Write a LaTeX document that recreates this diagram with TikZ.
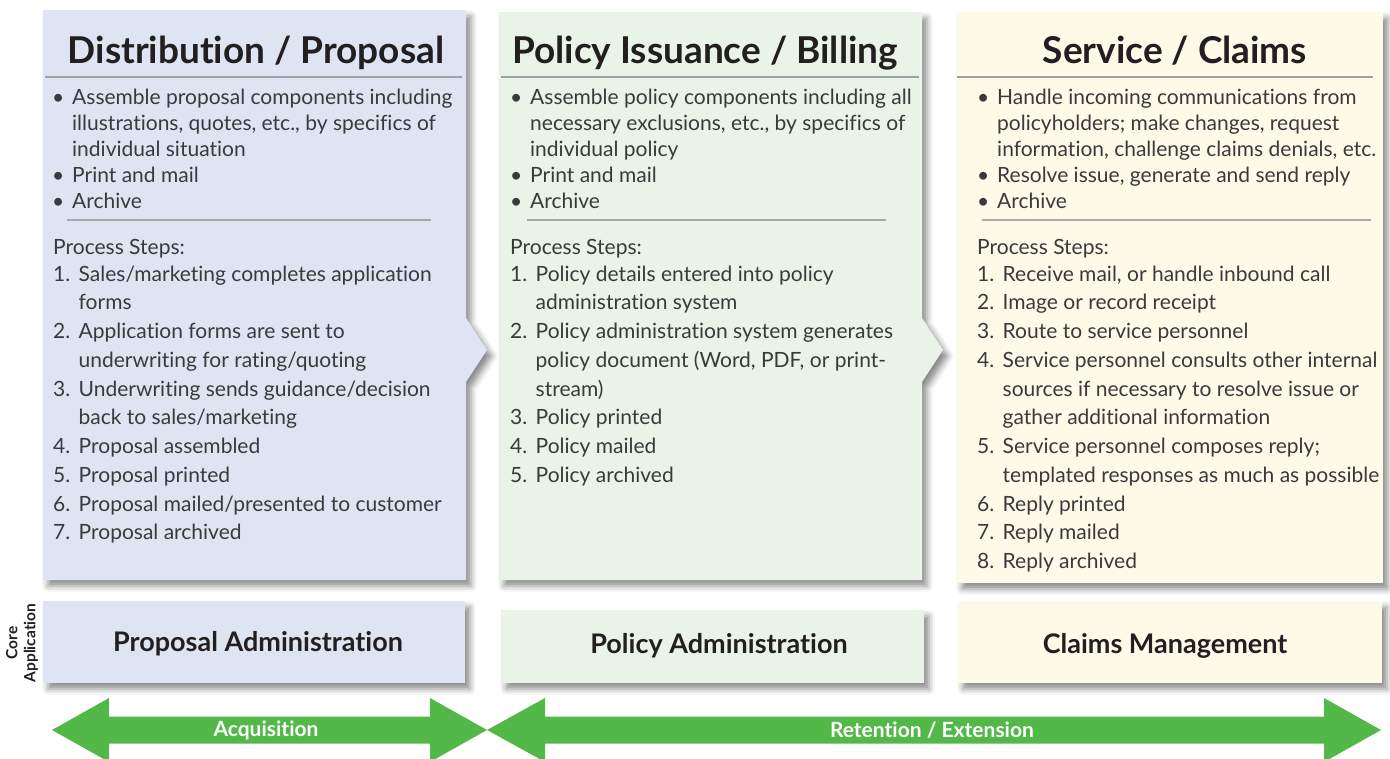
\documentclass[tikz,border=0pt]{standalone}
\usepackage{fontspec}
\setmainfont{Lato}[Ligatures=NoCommon]
\usetikzlibrary{shadows.blur}
\definecolor{fillA}{HTML}{DFE4F2}
\definecolor{fillB}{HTML}{E9F3E7}
\definecolor{fillC}{HTML}{FEFAE8}
\definecolor{arrowgreen}{HTML}{52B848}
\definecolor{headc}{HTML}{231F20}
\definecolor{bodyc}{HTML}{3A3A3C}
\definecolor{rulec}{HTML}{9FA1A4}
\definecolor{seprule}{HTML}{A8A8A8}
\newcommand{\blist}[1]{\begin{tabular}[t]{@{}p{20pt}@{}l@{}}#1\end{tabular}}
\newcommand{\nlist}[1]{\begin{tabular}[t]{@{}p{25.5pt}@{}l@{}}#1\end{tabular}}
\tikzset{
  panelshadow/.style={blur shadow={shadow xshift=5pt,shadow yshift=-6pt,shadow blur radius=6pt,shadow opacity=45}},
  header/.style={anchor=base,inner sep=0pt,text=headc,font=\fontsize{37}{44}\selectfont\bfseries},
  bodytxt/.style={anchor=base west,inner sep=0pt,text=bodyc,font=\fontsize{21}{26}\selectfont},
  steptxt/.style={anchor=base west,inner sep=0pt,text=bodyc,font=\fontsize{21}{28.75}\selectfont},
  headrule/.style={draw=rulec,line width=2.2pt},
  seprulestyle/.style={draw=seprule,line width=1.3pt},
  apptxt/.style={anchor=base,inner sep=0pt,text=headc,font=\fontsize{27}{30}\selectfont\bfseries},
  arrowtxt/.style={inner sep=0pt,text=white,font=\fontsize{21}{24}\selectfont\bfseries},
  bigarrow/.style={fill=arrowgreen}
}
\begin{document}
\begin{tikzpicture}[x=1pt,y=-1pt]
\useasboundingbox (0,0) rectangle (1390,758);
\clip (0,0) rectangle (1390,758);
% ---------- panels ----------
\fill[fillA,panelshadow] (43,10) -- (466,10) -- (466,318) -- (487,350) -- (466,382) -- (466,580) -- (43,580) -- cycle;
\fill[fillB,panelshadow] (499,12) -- (922,12) -- (922,318) -- (943,350) -- (922,382) -- (922,580) -- (499,580) -- cycle;
\fill[fillC,panelshadow] (957,12) rectangle (1383,583);
% header rules
\draw[headrule] (45,77) -- (462,77);
\draw[headrule] (501,77) -- (919,77);
\draw[headrule] (957,77) -- (1373,77);
% headers
\node[header] (hA) at (256,63) {Distribution / Proposal};
\node[header] (hB) at (705,63) {Policy Issuance / Billing};
\node[header] (hC) at (1175,63) {Service / Claims};
% ---------- panel A text ----------
\node[bodytxt] (bA) at (52,104) {\blist{%
\textbullet & Assemble proposal components including\\
 & illustrations, quotes, etc., by specifics of\\
 & individual situation\\
\textbullet & Print and mail\\
\textbullet & Archive}};
\draw[seprulestyle] (67,220) -- (431,220);
\node[bodytxt] (pA) at (53,254) {Process Steps:};
\node[steptxt] (sA) at (53,281) {\nlist{%
1. & Sales/marketing completes application\\
 & forms\\
2. & Application forms are sent to\\
 & underwriting for rating/quoting\\
3. & Underwriting sends guidance/decision\\
 & back to sales/marketing\\
4. & Proposal assembled\\
5. & Proposal printed\\
6. & Proposal mailed/presented to customer\\
7. & Proposal archived}};
% ---------- panel B text ----------
\node[bodytxt] (bB) at (510,104) {\blist{%
\textbullet & Assemble policy components including all\\
 & necessary exclusions, etc., by specifics of\\
 & individual policy\\
\textbullet & Print and mail\\
\textbullet & Archive}};
\draw[seprulestyle] (527,220) -- (886,220);
\node[bodytxt] (pB) at (510,254) {Process Steps:};
\node[steptxt] (sB) at (510,281) {\nlist{%
1. & Policy details entered into policy\\
 & administration system\\
2. & Policy administration system generates\\
 & policy document (Word, PDF, or print-\\
 & stream)\\
3. & Policy printed\\
4. & Policy mailed\\
5. & Policy archived}};
% ---------- panel C text ----------
\node[bodytxt] (bC) at (977,104) {\blist{%
\textbullet & Handle incoming communications from\\
 & policyholders; make changes, request\\
 & information, challenge claims denials, etc.\\
\textbullet & Resolve issue, generate and send reply\\
\textbullet & Archive}};
\draw[seprulestyle] (982,220) -- (1371,220);
\node[bodytxt] (pC) at (977,254) {Process Steps:};
\node[steptxt] (sC) at (977,281) {\nlist{%
1. & Receive mail, or handle inbound call\\
2. & Image or record receipt\\
3. & Route to service personnel\\
4. & Service personnel consults other internal\\
 & sources if necessary to resolve issue or\\
 & gather additional information\\
5. & Service personnel composes reply;\\
 & templated responses as much as possible\\
6. & Reply printed\\
7. & Reply mailed\\
8. & Reply archived}};
% ---------- core application boxes ----------
\fill[fillA,panelshadow] (43,601) rectangle (465,683);
\fill[fillB,panelshadow] (501,610) rectangle (924,683);
\fill[fillC,panelshadow] (958,601) rectangle (1382,683);
\node[apptxt] (aA) at (258,651) {Proposal Administration};
\node[apptxt] (aB) at (719,653) {Policy Administration};
\node[apptxt] (aC) at (1165,653) {Claims Management};
\node[rotate=90,align=center,inner sep=0pt,text=headc,font=\fontsize{15.5}{18}\selectfont\bfseries] (core) at (22,643) {Core\\Application};
% ---------- arrows ----------
\fill[bigarrow] (52,730) -- (109,698) -- (109,716.5) -- (430,716.5) -- (430,698) -- (487,730) -- (430,762) -- (430,743.5) -- (109,743.5) -- (109,762) -- cycle;
\fill[bigarrow] (487,730) -- (545,698) -- (545,716.5) -- (1324,716.5) -- (1324,698) -- (1381,730) -- (1324,762) -- (1324,743.5) -- (545,743.5) -- (545,762) -- cycle;
\node[arrowtxt] (acq) at (266,730) {Acquisition};
\node[arrowtxt] (ret) at (932,730) {Retention / Extension};
\end{tikzpicture}
\end{document}
